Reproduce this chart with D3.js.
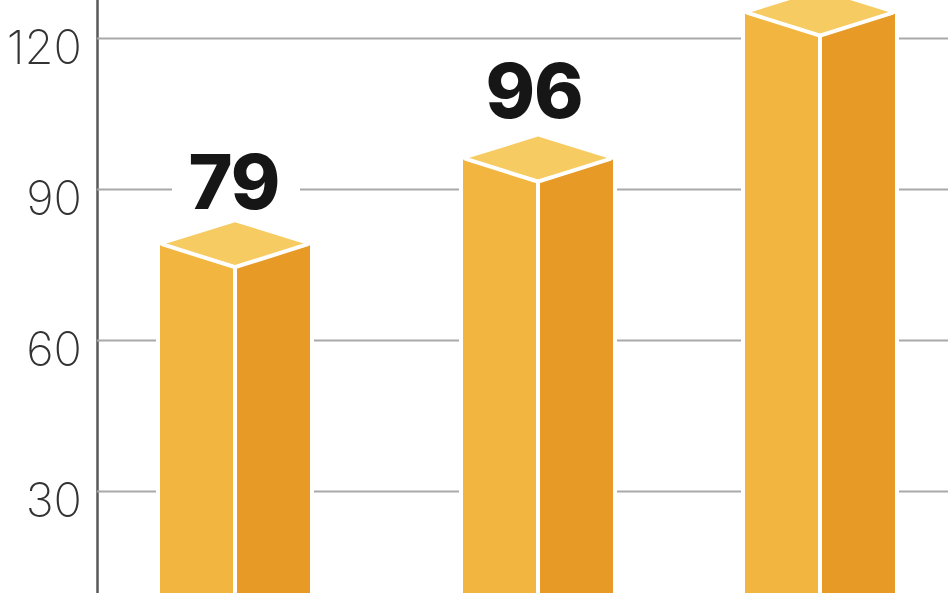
<!DOCTYPE html>
<html><head><meta charset="utf-8">
<script src="https://cdn.jsdelivr.net/npm/d3@7"></script>
<style>html,body{margin:0;padding:0;background:#fff;overflow:hidden}svg{display:block;filter:blur(0.45px)}</style>
</head><body><div id="c"></div>
<script>
const categories = ["A","B","C"];
const values = [79,96,125];
const tickValues = [30,60,90,120];

const W=948,H=593;
const y=d3.scaleLinear().domain([0,130]).range([642,-12.3]);
const x=d3.scaleOrdinal().domain(categories).range([235,538,820]);
const labelLift=d3.scaleOrdinal().domain(categories).range([35,41,41]);
const labelX=d3.scaleOrdinal().domain(categories).range([234,534,820]);
const svg=d3.select("#c").append("svg").attr("width",W).attr("height",H);
svg.append("rect").attr("width",W).attr("height",H).attr("fill","#fff");

const axis=d3.axisLeft(y).tickValues(tickValues).tickSize(-851).tickSizeOuter(0).tickPadding(15);
const ag=svg.append("g").attr("transform","translate(97,0)").call(axis);
ag.select(".domain").attr("stroke","#58585a").attr("stroke-width",2.5);
ag.selectAll(".tick line").attr("stroke","#a9a9a9").attr("stroke-width",2);
ag.selectAll(".tick text").attr("x",-15).attr("dy",0).attr("y",13)
  .attr("dominant-baseline","middle")
  .attr("font-family","Inter").attr("font-weight",200).attr("font-size",47).attr("fill","#333");

const hw=75,dv=22,du=23;
const pts=a=>a.map(p=>p.join(",")).join(" ");
const bars=svg.selectAll("g.bar").data(categories.map((c,i)=>({c,v:values[i]}))).join("g").attr("class","bar");
bars.each(function(d){
  const g=d3.select(this),cx=x(d.c),t=y(d.v)+0.8,b=H+10;
  g.append("polygon").attr("points",pts([[cx-hw,b],[cx-hw,t],[cx,t-du],[cx+hw,t],[cx+hw,b]]))
    .attr("fill","#fff").attr("stroke","#fff").attr("stroke-width",8);
  g.append("polygon").attr("points",pts([[cx-hw,t],[cx,t+dv],[cx,b],[cx-hw,b]])).attr("fill","#f2b640");
  g.append("polygon").attr("points",pts([[cx+hw,t],[cx,t+dv],[cx,b],[cx+hw,b]])).attr("fill","#e79a25");
  g.append("polygon").attr("points",pts([[cx-hw+4,t-1],[cx,t-du],[cx+hw-4,t-1],[cx,t+dv-2]])).attr("fill","#f6cb62");
  g.append("polyline").attr("points",pts([[cx-hw+2,t-1],[cx,t+dv],[cx+hw-2,t-1]])).attr("fill","none").attr("stroke","#fff").attr("stroke-width",4);
  g.append("line").attr("x1",cx).attr("x2",cx).attr("y1",t+dv).attr("y2",b).attr("stroke","#fff").attr("stroke-width",4);
  const base=y(d.v)-labelLift(d.c);
  if(base>60){
    g.append("rect").attr("x",cx-63).attr("y",base-62).attr("width",128).attr("height",62).attr("fill","#fff");
    g.append("text").attr("x",labelX(d.c)).attr("y",base).attr("text-anchor","middle")
      .attr("font-family","Inter").attr("font-weight",800).attr("font-size",75).attr("letter-spacing",-1).attr("fill","#161616").text(d.v);
  }
});
</script></body></html>
